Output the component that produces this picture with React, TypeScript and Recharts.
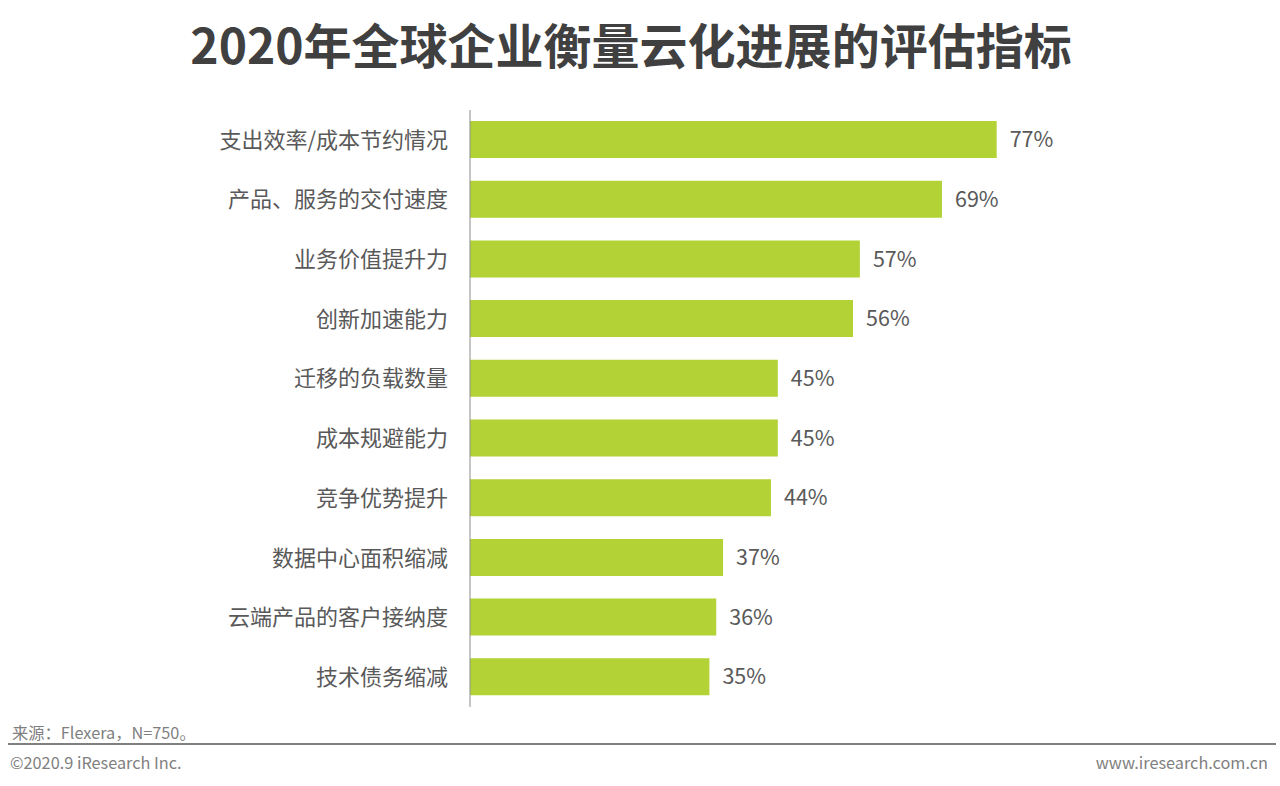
import { BarChart, Bar, XAxis, YAxis, LabelList } from "recharts";

const categories = [
  "支出效率/成本节约情况",
  "产品、服务的交付速度",
  "业务价值提升力",
  "创新加速能力",
  "迁移的负载数量",
  "成本规避能力",
  "竞争优势提升",
  "数据中心面积缩减",
  "云端产品的客户接纳度",
  "技术债务缩减",
];
const values = [77, 69, 57, 56, 45, 45, 44, 37, 36, 35];

const data = categories.map((name, i) => ({ name, value: values[i] }));

const FONT = '"Microsoft YaHei", "Noto Sans CJK SC", sans-serif';

export default function App() {
  return (
    <div
      style={{
        position: "fixed",
        left: 0,
        top: 0,
        width: 1280,
        height: 786,
        background: "#fff",
        fontFamily: FONT,
        overflow: "hidden",
      }}
    >
      <div
        style={{
          position: "absolute",
          top: 12,
          left: 0,
          width: 1262,
          textAlign: "center",
          fontSize: 48,
          fontWeight: 700,
          color: "#404040",
          lineHeight: "62px",
        }}
      >
        2020年全球企业衡量云化进展的评估指标
      </div>

      <div style={{ position: "absolute", left: 0, top: 0 }}>
        <BarChart
          width={1280}
          height={786}
          data={data}
          layout="vertical"
          margin={{ top: 110, right: 126, bottom: 79, left: 0 }}
          barSize={37}
        >
          <XAxis type="number" domain={[0, 100]} hide />
          <YAxis
            type="category"
            dataKey="name"
            width={470}
            tickLine={false}
            tickSize={0}
            tickMargin={22}
            axisLine={{ stroke: "#8c8c8c", strokeWidth: 1 }}
            tick={{ fill: "#595959", fontSize: 22, fontFamily: FONT }}
            interval={0}
          />
          <Bar dataKey="value" fill="#b2d235" isAnimationActive={false}>
            <LabelList
              dataKey="value"
              position="right"
              offset={13}
              formatter={(v: any) => `${v}%`}
              style={{ fill: "#595959", fontSize: 21.5, fontFamily: FONT }}
            />
          </Bar>
        </BarChart>
      </div>

      <div
        style={{
          position: "absolute",
          left: 12,
          top: 720,
          fontSize: 16.3,
          color: "#7f7f7f",
        }}
      >
        来源：Flexera，N=750。
      </div>
      <div
        style={{
          position: "absolute",
          left: 8,
          top: 743,
          width: 1268,
          height: 2,
          background: "#808080",
        }}
      />
      <div
        style={{
          position: "absolute",
          left: 10,
          top: 750,
          fontSize: 16.3,
          color: "#7f7f7f",
        }}
      >
        ©2020.9 iResearch Inc.
      </div>
      <div
        style={{
          position: "absolute",
          right: 12,
          top: 750,
          fontSize: 16.3,
          color: "#7f7f7f",
        }}
      >
        www.iresearch.com.cn
      </div>
    </div>
  );
}
